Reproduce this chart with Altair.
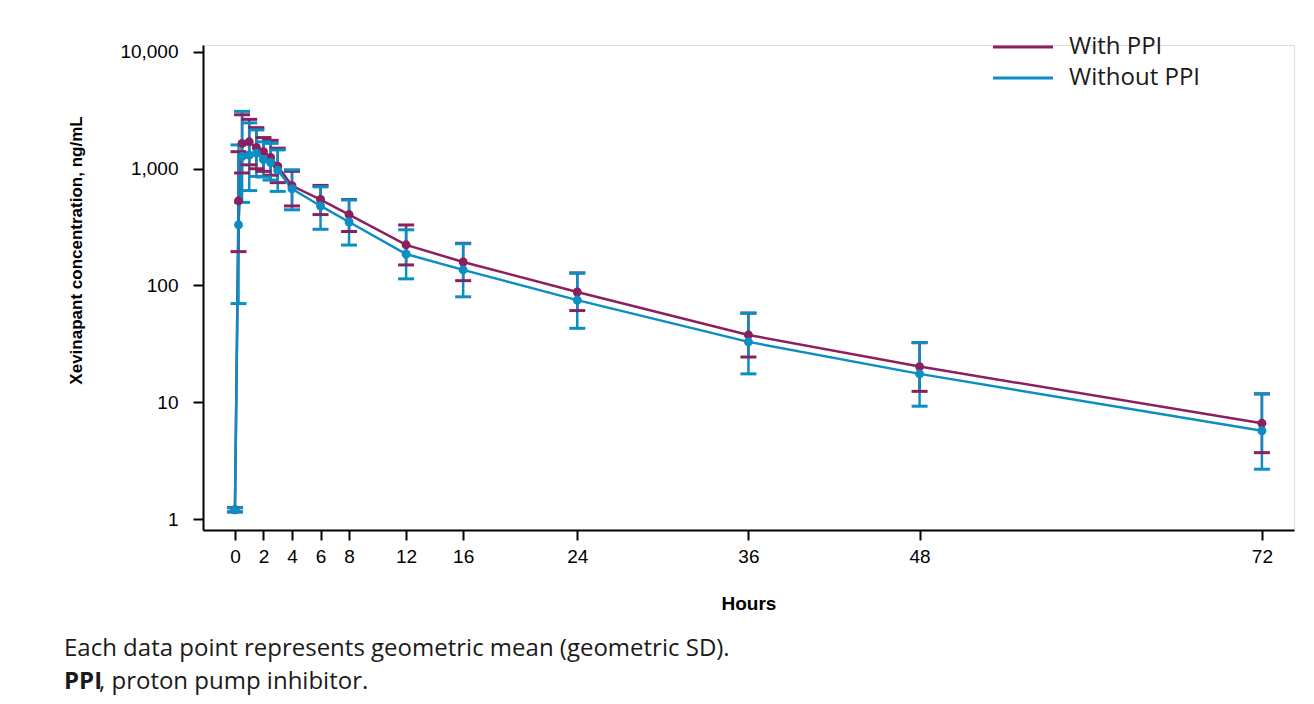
import altair as alt
import pandas as pd

# ---- data ----
times = [0, 0.25, 0.5, 1, 1.5, 2, 2.5, 3, 4, 6, 8, 12, 16, 24, 36, 48, 72]

with_mean = [1.2, 530, 1650, 1700, 1520, 1400, 1250, 1050, 715, 545, 405, 223, 159, 88, 37.7, 20.2, 6.6]
with_hi   = [1.25, 1400, 2900, 2650, 2250, 1850, 1750, 1500, 950, 720, 545, 330, 230, 128, 58, 32.4, 11.8]
with_lo   = [1.15, 195, 920, 1080, 1000, 950, 880, 760, 480, 405, 290, 150, 110, 61, 24.4, 12.4, 3.7]

without_mean = [1.2, 331, 1273, 1310, 1360, 1200, 1130, 970, 674, 480, 350, 186, 136, 75, 32.9, 17.5, 5.7]
without_hi   = [1.25, 1600, 3100, 2470, 2150, 1700, 1650, 1450, 980, 700, 540, 300, 228, 128, 58, 32.4, 11.8]
without_lo   = [1.15, 70, 515, 650, 860, 850, 800, 640, 445, 303, 222, 114, 80, 43, 17.5, 9.25, 2.67]

series = ["With PPI", "Without PPI"]
colors = ["#8B1F5F", "#0A8EC3"]

x_ticks = [0, 2, 4, 6, 8, 12, 16, 24, 36, 48, 72]
y_ticks = [1, 10, 100, 1000, 10000]

footer1 = "Each data point represents geometric mean (geometric SD)."
footer2_bold = "PPI"
footer2_rest = ", proton pump inhibitor."

rows = []
for s, m, hi, lo in [(series[0], with_mean, with_hi, with_lo),
                     (series[1], without_mean, without_hi, without_lo)]:
    for t, mv, h, l in zip(times, m, hi, lo):
        rows.append({"series": s, "time": t, "mean": mv, "hi": h, "lo": l})
df = pd.DataFrame(rows)

W, H = 1091, 485
AXFONT = "Liberation Sans"
TXTFONT = "Open Sans"

xscale = alt.Scale(domain=[-2.24, 74.25], nice=False, zero=False)
yscale = alt.Scale(type="log", domain=[0.805, 11480], nice=False)
cscale = alt.Scale(domain=series, range=colors)

xaxis = alt.Axis(values=x_ticks, title="Hours", grid=False, tickSize=10, labelPadding=7,
                 titlePadding=28, labelFontSize=19, titleFontSize=19, titleFontWeight="bold",
                 labelFont=AXFONT, titleFont=AXFONT, domainColor="black", tickColor="black",
                 domainWidth=2, tickWidth=2, labelColor="black", titleColor="black")
yaxis = alt.Axis(values=y_ticks, format=",", title="Xevinapant concentration, ng/mL", grid=False,
                 tickSize=10, labelPadding=15, labelFontSize=19, titleFontSize=17,
                 titleFontWeight="bold", labelFont=AXFONT, titleFont=AXFONT,
                 domainColor="black", tickColor="black", domainWidth=2, tickWidth=2,
                 labelColor="black", titleColor="black", titleX=-118, titleY=205)

base = alt.Chart(df)

# long thin legend stroke: path spans -3..3 units of a 20px symbol -> 60px
color_leg = alt.Color("series:N", scale=cscale, legend=alt.Legend(
    title=None, orient="none", legendX=808, legendY=-10, symbolType="M-3,0H3",
    symbolStrokeWidth=3, symbolSize=400, labelFontSize=24, labelFont=TXTFONT,
    labelColor="#1a1a1a", labelOffset=34, rowPadding=7, padding=0))
color_noleg = alt.Color("series:N", scale=cscale, legend=None)

lines = base.mark_line(strokeWidth=2.5).encode(
    x=alt.X("time:Q", scale=xscale, axis=xaxis),
    y=alt.Y("mean:Q", scale=yscale, axis=yaxis),
    color=color_leg,
    detail="series:N",
)

rules = base.mark_rule(strokeWidth=2.5).encode(
    x="time:Q", y="lo:Q", y2="hi:Q", color=color_noleg)

caps_hi = base.mark_tick(orient="horizontal", size=16, thickness=3, opacity=1).encode(
    x="time:Q", y="hi:Q", color=color_noleg)
caps_lo = base.mark_tick(orient="horizontal", size=16, thickness=3, opacity=1).encode(
    x="time:Q", y="lo:Q", color=color_noleg)

points = base.mark_circle(size=80, opacity=1).encode(
    x="time:Q", y="mean:Q", color=color_noleg)

ft1 = alt.Chart(pd.DataFrame({"t": [footer1]})).mark_text(
    align="left", baseline="alphabetic", fontSize=24, font=TXTFONT, color="#1a1a1a").encode(
    text="t:N", x=alt.value(-139), y=alt.value(611))
ft2 = alt.Chart(pd.DataFrame({"t": [footer2_bold]})).mark_text(
    align="left", baseline="alphabetic", fontSize=24, font=TXTFONT, fontWeight="bold",
    color="#1a1a1a").encode(text="t:N", x=alt.value(-139), y=alt.value(644))
ft3 = alt.Chart(pd.DataFrame({"t": [footer2_rest]})).mark_text(
    align="left", baseline="alphabetic", fontSize=24, font=TXTFONT, color="#1a1a1a").encode(
    text="t:N", x=alt.value(-104), y=alt.value(644))

chart = alt.layer(lines, rules, caps_hi, caps_lo, points, ft1, ft2, ft3).properties(
    width=W, height=H,
    autosize=alt.AutoSizeParams(type="none"),
    padding={"left": 195, "top": 37, "right": 12, "bottom": 166},
).configure_view(stroke=None).configure(background="white")

chart.save("out.html", embed_options={"renderer": "svg", "actions": False})
